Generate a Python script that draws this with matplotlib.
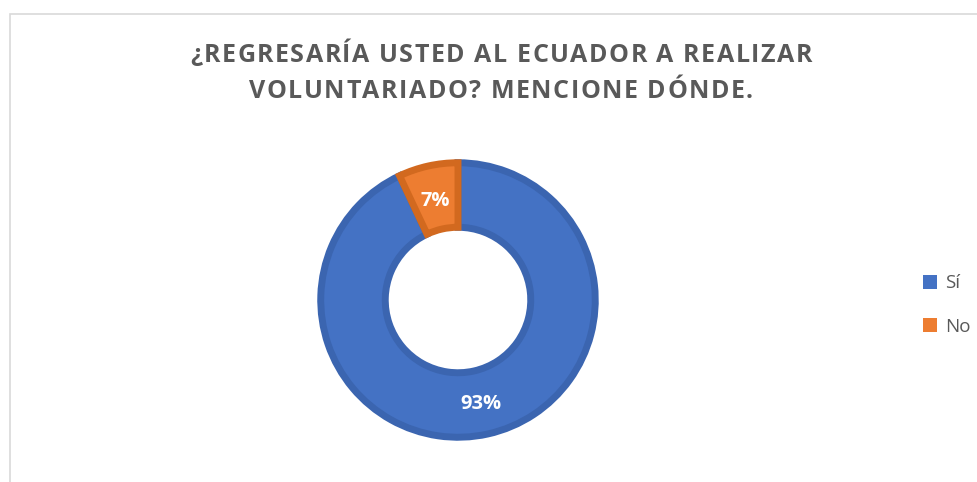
import matplotlib.pyplot as plt
from matplotlib.patches import Rectangle

categories = ['Sí', 'No']
values = [93, 7]
colors = ['#4472C4', '#ED7D31']
edge_colors = ['#3B65B0', '#D2691F']
title_lines = ['¿REGRESARÍA USTED AL ECUADOR A REALIZAR', 'VOLUNTARIADO? MENCIONE DÓNDE.']

W, H = 977, 482
fig = plt.figure(figsize=(W / 100, H / 100), dpi=100)

# chart area border
fig.patches.append(Rectangle((10 / W, -0.1), 1.2, (H - 14) / H + 0.1, transform=fig.transFigure,
                             fill=False, edgecolor='#D9D9D9', linewidth=1.2))

ax = fig.add_axes([318 / W, (H - 440) / H, 280 / W, 280 / H])
wedges, texts = ax.pie(values, colors=colors, startangle=90, counterclock=False,
                       labels=[f'{v}%' for v in values], labeldistance=0.76,
                       wedgeprops=dict(width=0.47, edgecolor='none'),
                       textprops=dict(color='white', fontsize=14.5, fontweight='bold',
                                      family='Open Sans'))
for t in texts:
    t.set_ha('center')
    t.set_va('center_baseline')
for w, ec in zip(wedges, edge_colors):
    w.set_edgecolor(ec)
    w.set_linewidth(5)
    w.set_joinstyle('miter')
ax.set_xlim(-1.02, 1.02)
ax.set_ylim(-1.02, 1.02)
ax.set_aspect('equal')
ax.axis('off')

# title with letter spacing, drawn char by char
renderer = fig.canvas.get_renderer()
tstyle = dict(fontsize=18, fontweight='bold', color='#595959', family='Open Sans',
              va='center', ha='left')
line_y = [55, 92]
target_w = 622
line_chars = []
for line in title_lines:
    objs = [fig.text(0, 0, ch, **tstyle) for ch in line]
    widths = [t.get_window_extent(renderer).width for t in objs]
    line_chars.append((objs, widths))
objs0, widths0 = line_chars[0]
spacing = (target_w - sum(widths0)) / (len(widths0) - 1)
for (objs, widths), y in zip(line_chars, line_y):
    total = sum(widths) + spacing * (len(widths) - 1)
    x = 501 - total / 2
    for t, w in zip(objs, widths):
        t.set_position((x / W, 1 - y / H))
        x += w + spacing

handles = [Rectangle((0, 0), 1, 1, facecolor=c) for c in colors]
fig.legend(handles, categories, loc='center left', bbox_to_anchor=(906 / W, 1 - 305 / H),
           frameon=False, labelcolor='#595959', handlelength=0.75,
           handleheight=0.75, handletextpad=0.45, labelspacing=1.35,
           prop=dict(family='Open Sans', size=13.5))

fig.savefig('out.png', dpi=100)
